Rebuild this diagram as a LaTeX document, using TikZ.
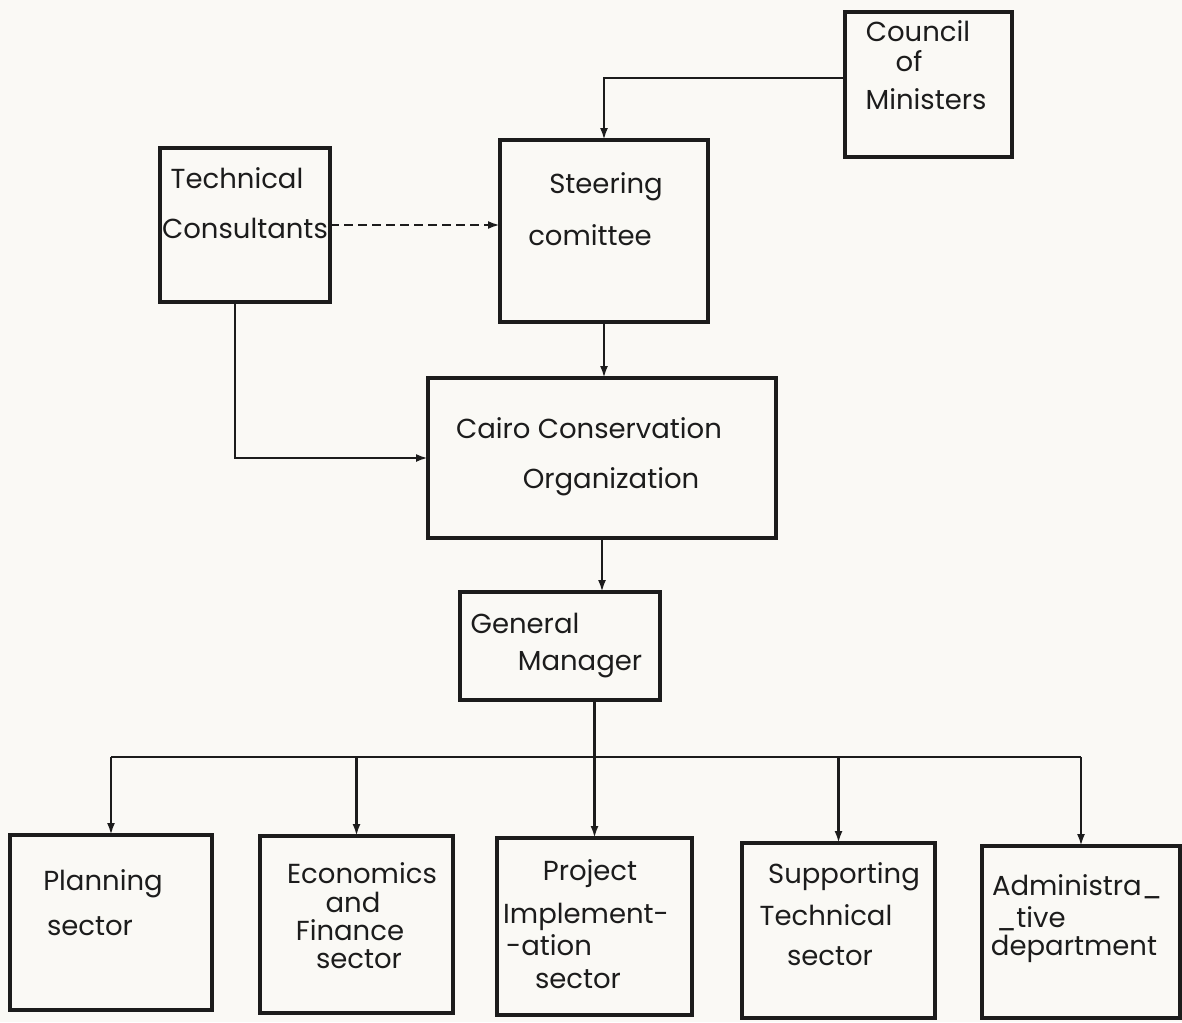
\documentclass[tikz,border=0pt]{standalone}
\usepackage{fontspec}
\setmainfont{Poppins}
\usetikzlibrary{arrows.meta}
\definecolor{ink}{RGB}{28,28,28}
\definecolor{paper}{RGB}{250,249,245}
\begin{document}
\begin{tikzpicture}[x=1pt,y=-1pt,
  box/.style={draw=ink, line width=3.8pt, inner sep=0pt, outer sep=0pt},
  lbl/.style={anchor=base, inner sep=0pt, text=ink, font=\fontsize{27.5}{32}\selectfont},
  wire/.style={draw=ink, line width=2.4pt},
  link/.style={wire, -{Latex[length=12pt,width=8pt]}},
]
% paper
\fill[paper] (0,0) rectangle (1182,1022);
\useasboundingbox (0,0) rectangle (1182,1022);

% boxes
\node[box, minimum width=170pt, minimum height=154pt] (tech)    at (245,225)   {};
\node[box, minimum width=208pt, minimum height=182pt] (steer)   at (604,231)   {};
\node[box, minimum width=167pt, minimum height=145pt] (council) at (928.5,84.5) {};
\node[box, minimum width=348pt, minimum height=160pt] (cco)     at (602,458)   {};
\node[box, minimum width=200pt, minimum height=108pt] (gm)      at (560,646)   {};
\node[box, minimum width=202pt, minimum height=175pt] (plan)    at (111,922.5) {};
\node[box, minimum width=193pt, minimum height=177pt] (econ)    at (356.5,924.5) {};
\node[box, minimum width=195pt, minimum height=177pt] (proj)    at (594.5,926.5) {};
\node[box, minimum width=193pt, minimum height=175pt] (supp)    at (838.5,930.5) {};
\node[box, minimum width=198pt, minimum height=172pt] (admin)   at (1081,932)  {};

% labels
\node[lbl] (tech1) at (237,188) {Technical};
\node[lbl] (tech2) at (245,238) {Consultants};
\node[lbl] (steer1) at (606,193) {Steering};
\node[lbl] (steer2) at (590,245) {comittee};
\node[lbl] (coun1) at (918,42) {Council};
\node[lbl] (coun2) at (909,72) {of};
\node[lbl] (coun3) at (926,110) {Ministers};
\node[lbl] (cco1) at (589,438) {Cairo Conservation};
\node[lbl] (cco2) at (611,488) {Organization};
\node[lbl] (gm1) at (525,633) {General};
\node[lbl] (gm2) at (580,670) {Manager};
\node[lbl] (plan1) at (103,890) {Planning};
\node[lbl] (plan2) at (90,935) {sector};
\node[lbl] (econ1) at (362,883) {Economics};
\node[lbl] (econ2) at (353,912) {and};
\node[lbl] (econ3) at (350,940) {Finance};
\node[lbl] (econ4) at (359,968) {sector};
\node[lbl] (proj1) at (590,880) {Project};
\node[lbl] (proj2) at (586,923) {Implement-};
\node[lbl] (proj3) at (549,955) {-ation};
\node[lbl] (proj4) at (578,988) {sector};
\node[lbl] (supp1) at (844,883) {Supporting};
\node[lbl] (supp2) at (826,925) {Technical};
\node[lbl] (supp3) at (830,965) {sector};
\node[lbl] (adm1) at (1077,895) {Administra\_};
\node[lbl] (adm2) at (1031,927) {\_tive};
\node[lbl] (adm3) at (1074,955) {department};

% connectors
\draw[link] ([yshift=6.5pt]council.west) -| (steer.north);
\draw[link, dash pattern=on 9pt off 5pt] (tech.east) -- (tech.east -| steer.west);
\draw[link] ([xshift=-10pt]tech.south) |- (cco.west);
\draw[link] (steer.south) -- (steer.south |- cco.north);
\draw[link] (cco.south) -- (cco.south |- gm.north);

\coordinate (bus) at (594.5,757);
\draw[wire] (plan.north |- bus) -- (admin.north |- bus);
\draw[link] (gm.south -| proj.north) -- (proj.north);
\draw[link] (plan.north |- bus) -- (plan.north);
\draw[link] (econ.north |- bus) -- (econ.north);
\draw[link] (supp.north |- bus) -- (supp.north);
\draw[link] (admin.north |- bus) -- (admin.north);
\end{tikzpicture}
\end{document}
